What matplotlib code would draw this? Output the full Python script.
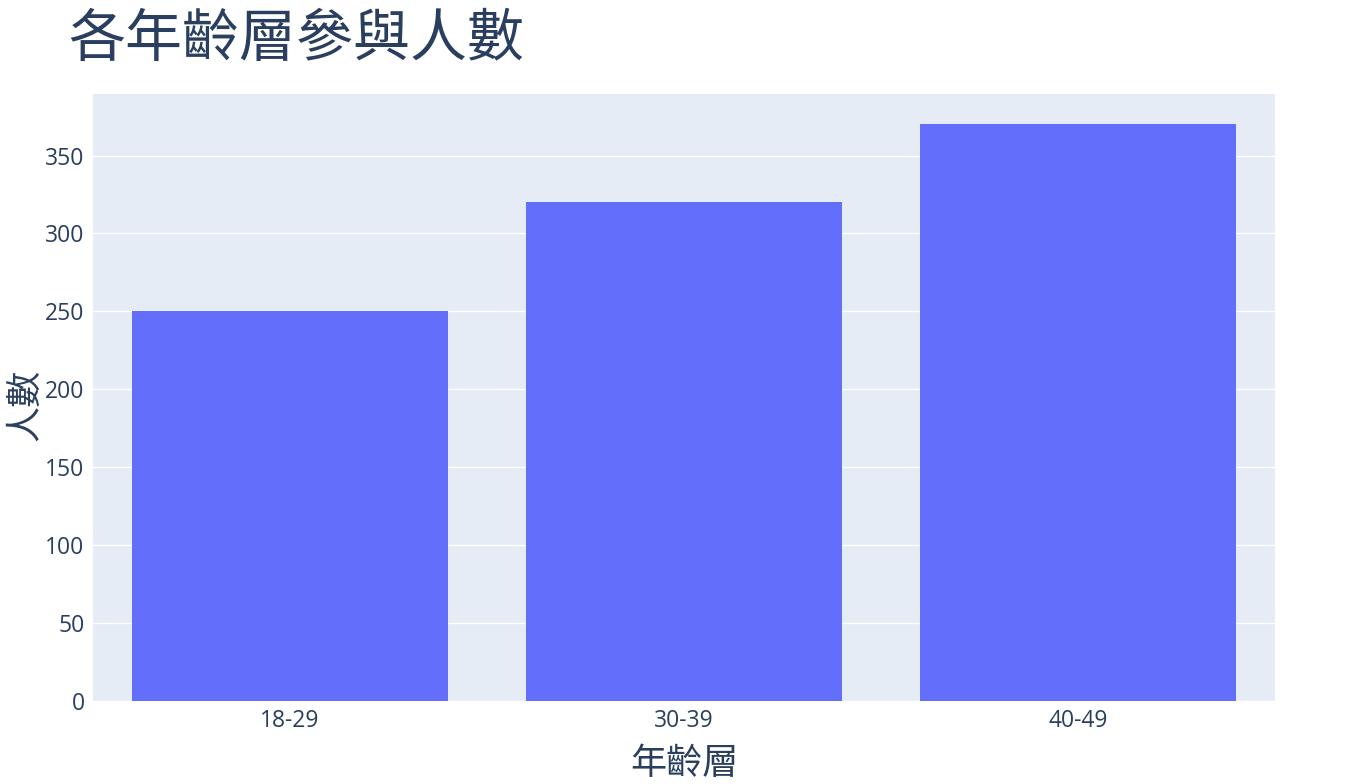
import matplotlib.pyplot as plt

plt.rcParams['font.family'] = ['Open Sans', 'Noto Sans CJK TC', 'DejaVu Sans']

age_groups = ['18-29', '30-39', '40-49']
counts = [250, 320, 370]
yticks = [0, 50, 100, 150, 200, 250, 300, 350]

text_color = '#2a3f5f'
cjk = ['Noto Sans CJK TC', 'DejaVu Sans']

fig = plt.figure(figsize=(13.5, 7.84), dpi=100)
ax = fig.add_axes([93 / 1350, 1 - 701 / 784, (1275 - 93) / 1350, (701 - 94) / 784])
ax.set_facecolor('#e5ecf6')

ax.bar(range(len(age_groups)), counts, width=0.8, color='#636efa', zorder=3)

ax.set_xlim(-0.5, len(age_groups) - 0.5)
ax.set_ylim(0, 389.5)
ax.set_xticks(range(len(age_groups)))
ax.set_xticklabels(age_groups)
ax.set_yticks(yticks)
ax.grid(axis='y', color='white', linewidth=1, zorder=0)
for s in ax.spines.values():
    s.set_visible(False)
ax.tick_params(length=0, labelsize=16.5, colors=text_color, pad=6)

ax.set_xlabel('年齡層', fontsize=26, color=text_color, family=cjk, labelpad=9)

# y axis title placed by hand so it stays inside the figure
fig.text(25 / 1350, 1 - 405 / 784, '人數', fontsize=26, color=text_color,
         family=cjk, rotation=90, ha='center', va='center')

fig.text(68 / 1350, 1 - 40 / 784, '各年齡層參與人數', fontsize=41, color=text_color,
         family=cjk, va='center', ha='left')

fig.savefig('out.png', dpi=100, facecolor='white')
